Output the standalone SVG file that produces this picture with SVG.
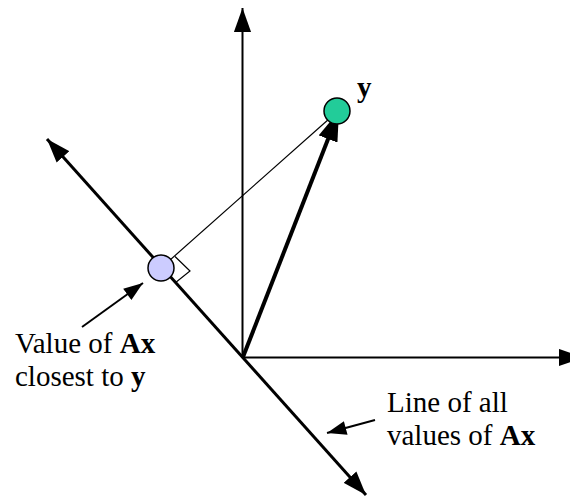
<svg xmlns="http://www.w3.org/2000/svg" width="570" height="497" viewBox="0 0 570 497">
<style>
.t{font-family:"Liberation Serif","Times New Roman","DejaVu Serif",serif;font-size:29px;fill:#000}
.b{font-weight:bold}
.ln{stroke:#000;fill:none}
</style>
<defs>
<marker id="ah" markerUnits="userSpaceOnUse" markerWidth="24" markerHeight="18" refX="21" refY="7.5" orient="auto-start-reverse" viewBox="0 0 21 15"><path d="M0,0 L21,7.5 L0,15 z" fill="#000"/></marker>
<marker id="ahv" markerUnits="userSpaceOnUse" markerWidth="30" markerHeight="20" refX="27" refY="9" orient="auto" viewBox="0 0 27 18"><path d="M0,0 L27,9 L0,18 z" fill="#000"/></marker>
<marker id="ahs" markerUnits="userSpaceOnUse" markerWidth="20" markerHeight="14" refX="18" refY="6.5" orient="auto" viewBox="0 0 18 13"><path d="M0,0 L18,6.5 L0,13 z" fill="#000"/></marker>
</defs>
<g id="connectors">
<line class="ln" x1="242.5" y1="358" x2="242.5" y2="8" stroke-width="2" marker-end="url(#ah)"/>
<line class="ln" x1="242" y1="357.5" x2="583" y2="357.5" stroke-width="2" marker-end="url(#ah)"/>
<line class="ln" x1="47" y1="139" x2="366" y2="495" stroke-width="3" marker-start="url(#ah)" marker-end="url(#ah)"/>
<line class="ln" x1="161" y1="268" x2="338" y2="111" stroke-width="1.2"/>
<polyline class="ln" points="175,256.5 190,271 175,283" stroke-width="1.2"/>
<line class="ln" x1="243" y1="357" x2="339" y2="111" stroke-width="4" marker-end="url(#ahv)"/>
<line class="ln" x1="82" y1="327" x2="143" y2="283" stroke-width="2" marker-end="url(#ahs)"/>
<line class="ln" x1="375" y1="420" x2="327" y2="433" stroke-width="2" marker-end="url(#ahs)"/>
</g>
<g id="node-ax">
<circle cx="161" cy="268" r="13" fill="#ccccff" stroke="#000" stroke-width="1.5"/>
</g>
<g id="node-y">
<circle cx="337" cy="111" r="13" fill="#22cc99" stroke="#000" stroke-width="1.5"/>
<text class="t b" x="357" y="97">y</text>
</g>
<g id="label-closest">
<text class="t" x="15" y="353">Value of <tspan class="b">Ax</tspan></text>
<text class="t" x="15" y="386">closest to <tspan class="b">y</tspan></text>
</g>
<g id="label-line">
<text class="t" x="387" y="412">Line of all</text>
<text class="t" x="387" y="445">values of <tspan class="b">Ax</tspan></text>
</g>
</svg>
